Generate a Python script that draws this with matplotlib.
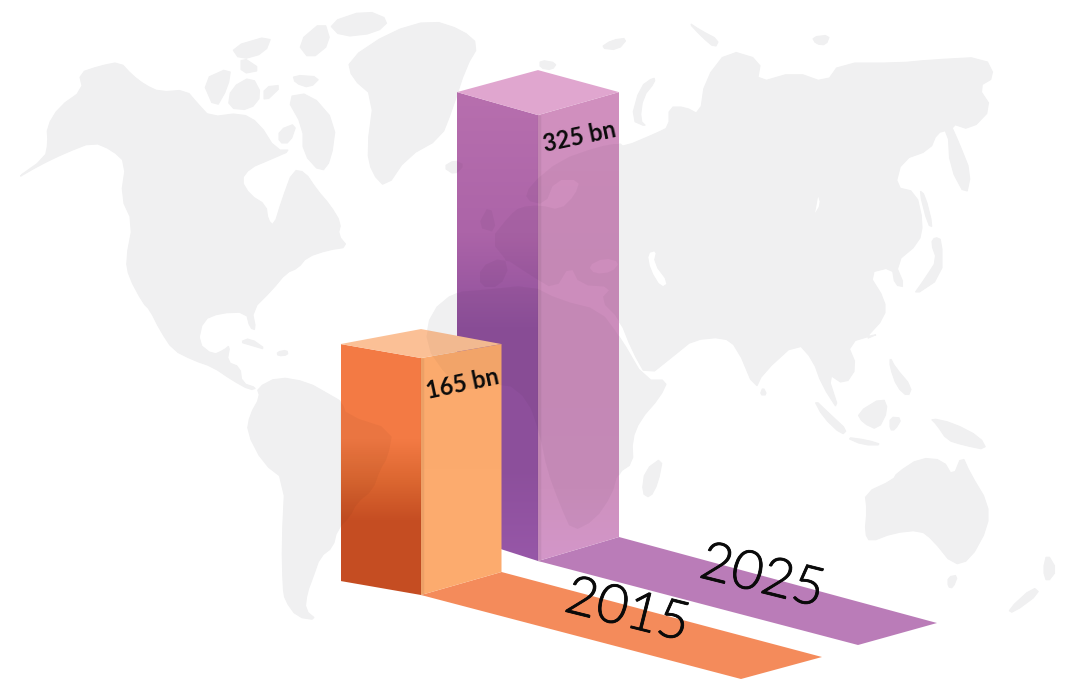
import matplotlib
matplotlib.use("Agg")
import matplotlib.pyplot as plt
import matplotlib.patheffects as pe
import numpy as np
from matplotlib.colors import to_rgb
from matplotlib.patches import PathPatch, Polygon
from matplotlib.path import Path

# ---- data -------------------------------------------------------------
years = ["2015", "2025"]
values_bn = [165, 325]
value_labels = ["165 bn", "325 bn"]

# ---- bar layout (the rear bar is further away, so a unit is shorter) ----
unit_px = [1.436, 1.372]
front_x = [421, 538]
base_front_y = [595, 561]
half_width = [80.5, 81]
top_side_rise = [14, 23]
top_back_rise = [29, 45]
base_left_rise = [14, 26]
base_right_rise = [23, 24]
floor_far = [[(822, 657), (741, 679)], [(937, 623), (858, 645)]]

left_stops = [
    [(0.0, "#F47B45"), (0.38, "#F37A44"), (0.55, "#DB6630"), (0.70, "#C64E23"), (1.0, "#C54D22")],
    [(0.0, "#B76FAE"), (0.30, "#AC64A8"), (0.50, "#8F509C"), (0.80, "#8C4F9B"), (1.0, "#9757A8")],
]
right_stops = [
    [(0.0, "#FBAA6D"), (1.0, "#FDAC6F")],
    [(0.0, "#D190BF"), (0.5, "#CC8DBC"), (0.85, "#CD90BE"), (1.0, "#D497C9")],
]
top_colours = ["#FBC096", "#E0A6CF"]
floor_colours = ["#F48B5B", "#BA7CB8"]
label_centres = [(463, 384), (580, 137)]
year_centres = [(627, 612), (762, 578)]

# ---- background map outlines ------------------------------------------
land = [
    # North and Central America
    [(79, 73), (100, 66), (120, 62), (132, 75), (145, 85), (160, 92), (186, 90), (198, 104), (210, 117),
     (241, 113), (259, 123), (276, 150), (292, 150), (269, 160), (250, 168),
     (241, 180), (250, 195), (266, 205), (268, 220), (274, 226), (282, 200), (293, 170), (305, 172), (317, 190),
     (330, 205), (341, 223), (338, 235), (348, 247), (328, 250), (307, 257), (298, 268), (286, 273), (272, 290),
     (252, 310), (256, 330), (250, 328), (246, 312), (220, 313), (203, 320), (198, 343), (213, 355), (224, 350),
     (230, 345), (227, 362), (240, 367), (242, 383), (257, 388), (250, 390), (232, 380), (213, 367), (193, 360),
     (173, 350), (160, 330), (150, 310), (143, 303), (129, 277), (126, 260),
     (133, 223), (121, 197), (126, 163), (112, 150), (93, 142), (65, 153), (40, 165), (14, 180), (45, 158),
     (48, 143), (47, 127), (59, 107), (83, 90)],
    # Arctic Canada
    [(202, 80), (231, 67), (228, 87), (215, 110)],
    [(231, 88), (252, 76), (262, 95), (250, 110), (228, 108)],
    [(231, 47), (272, 35), (265, 53), (240, 60)],
    [(241, 56), (262, 70), (241, 74)],
    [(264, 87), (283, 85), (264, 103)],
    [(286, 97), (310, 93), (336, 123), (331, 160), (321, 173), (303, 153), (303, 127)],
    [(293, 75), (321, 77), (310, 88), (295, 83)],
    [(297, 43), (324, 20), (331, 43), (310, 60)],
    [(328, 23), (366, 10), (390, 20), (376, 33), (341, 37)],
    [(279, 130), (297, 123), (290, 143), (279, 143)],
    # Greenland and Iceland
    [(348, 60), (390, 32), (431, 20), (462, 30), (479, 45), (466, 67), (452, 110), (441, 138), (407, 157),
     (386, 188), (372, 173), (367, 150), (374, 97), (352, 78)],
    [(443, 167), (455, 160), (465, 165), (455, 175)],
    # Caribbean
    [(240, 342), (250, 338), (267, 350), (250, 345)],
    [(277, 352), (287, 350), (288, 355), (278, 356)],
    # South America
    [(257, 388), (278, 377), (307, 382), (330, 395), (342, 402), (347, 415), (393, 430), (388, 457), (380, 470),
     (373, 490), (357, 503), (350, 517), (337, 530), (333, 547), (320, 557), (313, 577), (307, 593), (305, 610),
     (317, 620), (297, 617), (285, 600), (283, 587), (282, 543), (285, 480), (263, 463), (247, 432), (250, 415),
     (260, 397)],
    # Eurasia
    [(619, 143), (624, 147), (657, 133), (669, 127), (669, 107), (685, 107), (700, 115), (705, 80), (728, 50),
     (761, 60), (757, 83), (795, 72), (826, 83), (840, 63), (899, 63), (930, 60), (985, 57), (995, 77), (978, 87),
     (992, 108), (971, 130), (950, 123), (959, 143), (971, 173), (966, 197), (950, 167), (948, 130), (937, 133),
     (930, 150), (902, 160), (895, 187), (916, 192), (923, 223), (919, 243), (895, 263), (905, 287), (895, 285),
     (892, 267), (868, 273), (885, 300), (885, 317), (864, 340), (880, 333), (847, 343), (857, 367), (845, 385),
     (827, 373), (840, 413), (822, 385), (813, 360), (797, 342), (763, 373), (755, 390), (737, 347), (723, 337),
     (693, 340), (677, 353), (647, 377), (632, 350), (620, 320), (600, 300), (612, 287), (580, 285), (570, 265),
     (555, 290), (530, 275), (503, 257), (480, 267), (480, 287), (500, 287), (510, 265), (490, 240), (510, 215),
     (520, 207), (540, 205), (560, 210), (575, 195), (580, 180), (555, 180), (545, 205), (525, 200), (530, 185),
     (560, 160), (597, 147)],
    [(477, 227), (490, 203), (497, 233)],
    [(631, 120), (640, 87), (654, 77), (655, 82), (643, 97), (640, 120), (647, 127)],
    [(919, 190), (925, 195), (933, 227), (928, 225)],
    [(935, 237), (942, 240), (942, 277), (912, 297), (926, 277), (937, 260), (931, 243)],
    [(763, 387), (767, 395), (760, 395)],
    # Arctic Ocean islands
    [(688, 22), (700, 30), (719, 40), (715, 48), (702, 37)],
    [(812, 37), (830, 35), (826, 45), (816, 44)],
    [(540, 60), (557, 63), (552, 70), (540, 68)],
    [(600, 48), (612, 40), (628, 38), (618, 50)],
    # Africa
    [(620, 337), (645, 380), (668, 380), (660, 397), (640, 420), (632, 440), (633, 463), (618, 473), (612, 495),
     (595, 520), (572, 532), (560, 505), (547, 470), (540, 435), (528, 400), (505, 382), (470, 392), (448, 378),
     (425, 345), (431, 312), (455, 292), (482, 290), (530, 285), (560, 300), (600, 310)],
    [(663, 457), (658, 483), (650, 498), (642, 493), (645, 470)],
    # Australasia
    [(865, 493), (893, 480), (897, 473), (920, 458), (943, 460), (953, 477), (962, 455), (970, 473), (988, 503),
     (988, 527), (970, 560), (953, 565), (933, 540), (920, 530), (893, 533), (870, 542), (865, 533), (867, 510)],
    [(948, 577), (958, 575), (953, 588), (948, 587)],
    [(1047, 553), (1057, 570), (1047, 583), (1043, 570)],
    [(1033, 587), (1040, 593), (1013, 613), (1008, 610)],
    [(930, 418), (953, 423), (980, 437), (987, 450), (963, 445), (947, 440), (937, 425)],
    [(857, 413), (883, 397), (888, 410), (878, 430), (863, 423)],
    [(813, 398), (833, 417), (847, 430), (842, 435), (823, 417)],
    [(845, 437), (867, 440), (883, 445), (863, 445)],
    [(890, 417), (902, 418), (895, 430), (890, 430)],
    [(890, 357), (895, 367), (912, 387), (908, 397), (897, 387), (890, 367)],
]
seas = [
    [(647, 253), (657, 250), (654, 263), (669, 283), (661, 288), (650, 270)],
    [(588, 266), (604, 258), (620, 262), (612, 272), (595, 274)],
    [(818, 194), (821, 204), (814, 216), (816, 205)],
]


def rounded(points, passes=1):
    """Chaikin corner cutting, to soften a traced outline."""
    pts = np.asarray(points, float)
    for _ in range(passes):
        nxt = np.roll(pts, -1, axis=0)
        pts = np.column_stack([0.75 * pts + 0.25 * nxt, 0.25 * pts + 0.75 * nxt]).reshape(-1, 2)
    return pts


def compound_path(outer, holes):
    """Land outlines with inland seas cut out using opposite winding."""
    verts, codes = [], []

    def add(points, clockwise):
        pts = rounded(points)
        area = np.sum(pts[:, 0] * np.roll(pts[:, 1], -1) - np.roll(pts[:, 0], -1) * pts[:, 1])
        if (area > 0) != clockwise:
            pts = pts[::-1]
        verts.extend(pts.tolist())
        verts.append(pts[0].tolist())
        codes.extend([Path.MOVETO] + [Path.LINETO] * (len(pts) - 1) + [Path.CLOSEPOLY])

    for shape in outer:
        add(shape, True)
    for shape in holes:
        add(shape, False)
    return Path(verts, codes)


def gradient_face(ax, polygon, stops, zorder):
    """Fill a polygon with a vertical colour ramp."""
    pts = np.asarray(polygon)
    y0, y1 = pts[:, 1].min(), pts[:, 1].max()
    pos = [s[0] for s in stops]
    rgb = np.array([to_rgb(s[1]) for s in stops])
    t = np.linspace(0, 1, 256)
    ramp = np.stack([np.interp(t, pos, rgb[:, i]) for i in range(3)], axis=1)[:, None, :]
    im = ax.imshow(ramp, extent=[pts[:, 0].min(), pts[:, 0].max(), y1, y0], aspect="auto",
                   interpolation="bilinear", zorder=zorder)
    im.set_clip_path(Polygon(polygon, closed=True, transform=ax.transData))


fig = plt.figure(figsize=(10.81, 6.81), dpi=100, facecolor="white")
ax = fig.add_axes([0, 0, 1, 1])

land_path = compound_path(land, seas)
ax.add_patch(PathPatch(land_path, facecolor="#F0F0F1", edgecolor="#F0F0F1", lw=0.8, zorder=1))

# The rear bar goes down first so the nearer one overlaps it.
for i in (1, 0):
    fx, base, hw = front_x[i], base_front_y[i], half_width[i]
    top = base - values_bn[i] * unit_px[i]
    xl, xr = fx - hw, fx + hw
    z = 3 + (1 - i) * 10

    floor = [(fx, base), (xr, base - base_right_rise[i]), floor_far[i][0], floor_far[i][1]]
    ax.add_patch(Polygon(floor, closed=True, facecolor=floor_colours[i], edgecolor="none", zorder=2 + (1 - i)))

    left = [(xl, top - top_side_rise[i]), (fx, top), (fx, base), (xl, base - base_left_rise[i])]
    right = [(fx, top), (xr, top - top_side_rise[i]), (xr, base - base_right_rise[i]), (fx, base)]
    cap = [(xl, top - top_side_rise[i]), (fx, top - top_back_rise[i]),
           (xr, top - top_side_rise[i]), (fx, top)]

    gradient_face(ax, left, left_stops[i], z)
    gradient_face(ax, right, right_stops[i], z)
    ax.add_patch(Polygon(cap, closed=True, facecolor=top_colours[i], edgecolor="none", zorder=z))
    ax.plot([fx + 0.5, fx + 0.5], [top, base], color="#000000", alpha=0.06, lw=2.5, zorder=z + 0.2,
            solid_capstyle="butt")

    # Faint land shading showing through the translucent faces
    outline = [left[0], cap[1], cap[2], right[2], right[3], left[3]]
    shade = PathPatch(land_path, facecolor="#000000", edgecolor="none", alpha=0.035, zorder=z + 0.1)
    ax.add_patch(shade)
    shade.set_clip_path(Polygon(outline, closed=True, transform=ax.transData))

    ax.text(*label_centres[i], value_labels[i], rotation=12, rotation_mode="anchor", ha="center", va="center",
            family="Lato", weight="bold", fontsize=17, color="#0B0B0B", zorder=z + 1)
    ax.text(*year_centres[i], years[i], rotation=-14, rotation_mode="anchor", ha="center", va="center",
            family="Lato", weight=300, fontsize=39, color="#0A0A0A", zorder=30,
            path_effects=[pe.withStroke(linewidth=0.6, foreground="#0A0A0A")])

ax.set_xlim(0, 1081)
ax.set_ylim(681, 0)
ax.axis("off")
fig.savefig("out.png", dpi=100, facecolor="white")
